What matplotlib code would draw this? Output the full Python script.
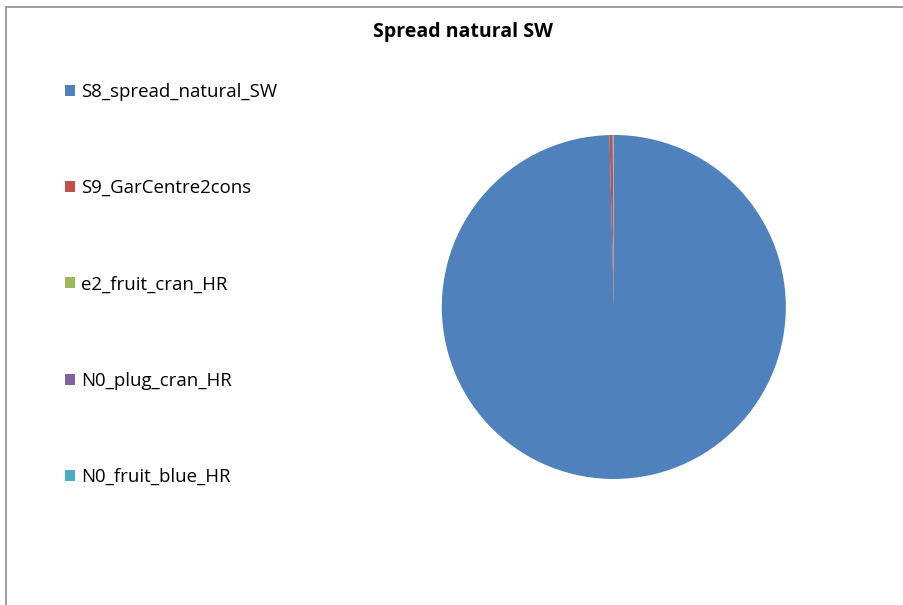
import matplotlib.pyplot as plt
from matplotlib.patches import Rectangle

# data
labels = ['S8_spread_natural_SW', 'S9_GarCentre2cons', 'e2_fruit_cran_HR',
          'N0_plug_cran_HR', 'N0_fruit_blue_HR']
values = [99.6, 0.3, 0.04, 0.03, 0.03]
colors = ['#4F81BD', '#C0504D', '#9BBB59', '#8064A2', '#4BACC6']
title = 'Spread natural SW'

plt.rcParams['font.family'] = ['Open Sans', 'DejaVu Sans']

fig = plt.figure(figsize=(9.04, 6.05), dpi=100)

# chart area border (only top and left visible)
fig.patches.append(Rectangle((6/904, -0.1), 1.2, 1 - 7/605 + 0.1,
                             transform=fig.transFigure, fill=False,
                             edgecolor='#8c8c8c', linewidth=1.2))

ax = fig.add_axes([0.679 - 0.1903, 0.4926 - 0.2843, 0.3806, 0.5686])
wedges, _ = ax.pie(values, colors=colors, startangle=90, counterclock=False,
                   wedgeprops=dict(linewidth=0))
ax.set_xlim(-1, 1)
ax.set_ylim(-1, 1)
ax.set_aspect('equal')

fig.text(0.512, 1 - 32/605, title, ha='center', va='center',
         fontsize=14, fontweight='bold')

fig.legend(wedges, labels, loc='upper left', bbox_to_anchor=(48/904, 1 - 66/605),
           frameon=False, fontsize=13.4, labelspacing=4.21,
           handlelength=0.55, handleheight=0.55, handletextpad=0.35)

fig.savefig('out.png', dpi=100)
